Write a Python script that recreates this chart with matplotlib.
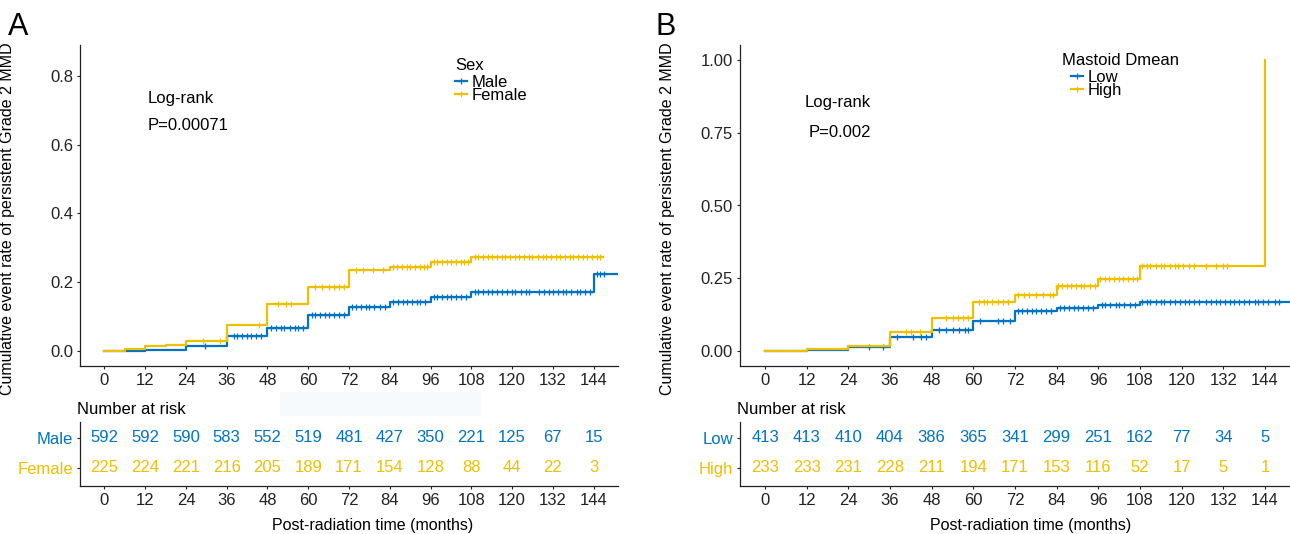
import numpy as np
import matplotlib.pyplot as plt
from matplotlib.lines import Line2D
from matplotlib.patches import Rectangle

plt.rcParams['font.family'] = ['Liberation Sans', 'DejaVu Sans']

BLUE = '#0073C2'
YELLOW = '#EFC000'

# shared x ticks (months)
months = [0, 12, 24, 36, 48, 60, 72, 84, 96, 108, 120, 132, 144]

# ---- Panel A: Sex ----
a_male_t = [0, 12, 18, 24, 36, 48, 60, 72, 84, 96, 108, 144, 151.2]
a_male_y = [0, 0.002, 0.004, 0.013, 0.043, 0.068, 0.105, 0.128, 0.142, 0.157, 0.170, 0.225, 0.225]
a_female_t = [0, 6, 12, 18, 24, 36, 48, 60, 72, 84, 96, 108, 146.8]
a_female_y = [0, 0.005, 0.013, 0.018, 0.030, 0.075, 0.135, 0.186, 0.234, 0.245, 0.258, 0.272, 0.272]

a_male_cens = [29.5, 38, 39, 40.5, 42, 43, 44.5, 46, 49, 50.5, 52, 53, 54.5, 56, 57, 58.5,
               61, 62, 63.5, 65, 66, 67.5, 69, 70.5, 73, 74, 75.5, 77, 78, 79.5, 81, 82.5,
               85, 86.5, 88, 89, 90.5, 92, 93, 94.5, 97, 98, 99.5, 101, 102, 103.5, 105, 106.5,
               109, 110, 111.5, 113, 114, 115.5, 117, 118.5, 120, 121, 122.5, 124, 125,
               128, 129.5, 131, 132, 133.5, 135, 136, 137.5, 139, 140, 141.5, 143, 145, 146, 147]
a_female_cens = [29, 34, 45.5, 51, 53.5, 55, 62, 64, 66, 67.5, 69, 70.5, 74, 76, 79, 82,
                 85, 86, 87.5, 89, 90, 91.5, 93, 94, 95, 97, 98, 99.5, 101, 102, 103.5, 105, 106, 107,
                 109, 110, 111.5, 113, 114, 115.5, 117, 118, 119.5, 121, 122, 123.5, 125, 126,
                 127.5, 129, 130, 131.5, 133, 134, 135.5, 137, 138, 139.5, 141, 142, 143.5, 145, 146]

a_male_risk = [592, 592, 590, 583, 552, 519, 481, 427, 350, 221, 125, 67, 15]
a_female_risk = [225, 224, 221, 216, 205, 189, 171, 154, 128, 88, 44, 22, 3]

# ---- Panel B: Mastoid Dmean ----
b_low_t = [0, 12, 24, 36, 48, 60, 72, 84, 96, 108, 151.2]
b_low_y = [0, 0.004, 0.015, 0.050, 0.072, 0.105, 0.138, 0.150, 0.160, 0.168, 0.168]
b_high_t = [0, 12, 24, 36, 48, 60, 72, 84, 96, 108, 144]
b_high_y = [0, 0.007, 0.017, 0.068, 0.113, 0.168, 0.193, 0.225, 0.248, 0.293, 1.0]

b_low_cens = [30, 34, 38, 42.5, 45, 46.5, 50, 52, 54, 56, 57.5, 58.5, 62, 67, 68.5, 70.5,
              73, 74, 75.5, 77, 78, 79.5, 81, 82.5, 85, 86, 87.5, 89, 90, 91.5, 93, 94.5,
              97, 98, 99.5, 101, 102, 103.5, 105, 106.5, 108.5, 110, 111, 112.5, 114, 115, 116.5,
              118, 119.5, 121, 122, 123.5, 125, 127, 128.5, 130, 131, 132.5, 134, 135, 136.5,
              138, 139.5, 141, 142, 143.5, 145, 147, 148]
b_high_cens = [40.5, 42, 44.5, 52, 54, 55.5, 57, 58.5, 61.5, 63, 64, 65.5, 67, 68.5, 70,
               73, 74.5, 76, 78, 80, 82, 83, 84.5, 85.5, 87, 88, 89.5, 91, 92, 93.5, 95,
               96.5, 98, 99, 100.5, 102, 103, 104.5, 106, 107, 108.5, 110, 111, 112.5, 114, 115,
               116.5, 118, 119, 120.5, 122, 123.5, 127, 130, 132, 133]

b_low_risk = [413, 413, 410, 404, 386, 365, 341, 299, 251, 162, 77, 34, 5]
b_high_risk = [233, 233, 231, 228, 211, 194, 171, 153, 116, 52, 17, 5, 1]

YLABEL = 'Cumulative event rate of persistent Grade 2 MMD'
XLABEL = 'Post-radiation time (months)'
FS = 12


def step_value(t, y, c):
    idx = np.searchsorted(t, c, side='right') - 1
    return np.asarray(y)[idx]


def style(ax):
    for s in ['top', 'right']:
        ax.spines[s].set_visible(False)
    for s in ['left', 'bottom']:
        ax.spines[s].set_linewidth(0.9)
        ax.spines[s].set_color('#222222')
    ax.tick_params(labelsize=FS, length=2.5, width=0.8, pad=2.5, colors='#222222')
    ax.set_xlim(-7.2, 151.2)
    ax.set_xticks(months)


fig = plt.figure(figsize=(12.9, 5.34), dpi=100)

panels = [
    dict(letter='A', lx=0.006, left=80 / 1290, width=538 / 1290,
         names=['Male', 'Female'], title='Sex',
         curves=[(a_male_t, a_male_y, a_male_cens, BLUE), (a_female_t, a_female_y, a_female_cens, YELLOW)],
         risk=[a_male_risk, a_female_risk],
         ylim=(-0.044, 0.89), yticks=[0.0, 0.2, 0.4, 0.6, 0.8], yfmt='{:.1f}',
         pval='P=0.00071', txt_x=12.6, txt_ha='left', txt_y=(0.733, 0.655),
         leg=(0.673, 0.986), title_shift=0, xlab_x=0.543),
    dict(letter='B', lx=0.508, left=740 / 1290, width=550 / 1290,
         names=['Low', 'High'], title='Mastoid Dmean',
         curves=[(b_low_t, b_low_y, b_low_cens, BLUE), (b_high_t, b_high_y, b_high_cens, YELLOW)],
         risk=[b_low_risk, b_high_risk],
         ylim=(-0.05, 1.05), yticks=[0.0, 0.25, 0.5, 0.75, 1.0], yfmt='{:.2f}',
         pval='P=0.002', txt_x=30.5, txt_ha='right', txt_y=(0.853, 0.75),
         leg=(0.578, 1.002), title_shift=-9, xlab_x=0.529),
]

for p in panels:
    ax = fig.add_axes([p['left'], 168 / 534, p['width'], 321 / 534])
    style(ax)
    for t, y, cens, col in p['curves']:
        ax.step(t, y, where='post', color=col, lw=1.6)
        ax.plot(cens, step_value(t, y, cens), '+', color=col, ms=4.5, mew=0.9)
    ax.set_ylim(*p['ylim'])
    ax.set_yticks(p['yticks'])
    ax.set_yticklabels([p['yfmt'].format(v) for v in p['yticks']])
    ax.set_ylabel(YLABEL, fontsize=11.5)
    ax.yaxis.set_label_coords(-0.121 if p['letter'] == 'A' else -0.118, 0.46)

    ax.text(p['txt_x'], p['txt_y'][0], 'Log-rank', fontsize=FS, ha=p['txt_ha'], va='center')
    ax.text(p['txt_x'], p['txt_y'][1], p['pval'], fontsize=FS, ha=p['txt_ha'], va='center')

    handles = [Line2D([], [], color=c[3], lw=1.6, marker='+', ms=4.5, mew=0.9) for c in p['curves']]
    leg = ax.legend(handles, p['names'], title=p['title'], loc='upper left',
                    bbox_to_anchor=p['leg'], frameon=False, fontsize=FS, title_fontsize=FS,
                    handlelength=0.7, handletextpad=0.3, labelspacing=-0.15, borderpad=0.3,
                    alignment='left')
    # lift the legend title a little above its entries
    leg.get_title().set_position((p['title_shift'], 5))

    fig.text(p['lx'], 0.935, p['letter'], fontsize=22)

    # risk table
    tab = fig.add_axes([p['left'], 48 / 534, p['width'], 64 / 534])
    style(tab)
    tab.set_ylim(0.4, 2.53)
    tab.set_yticks([2, 1])
    tab.set_yticklabels(p['names'])
    for lab, c in zip(tab.get_yticklabels(), p['curves']):
        lab.set_color(c[3])
    for row, vals, c in zip([2, 1], p['risk'], p['curves']):
        for m, v in zip(months, vals):
            tab.text(m, row, str(v), color=c[3], fontsize=FS, ha='center', va='center')
    tab.text(-0.006, 1.2, 'Number at risk', fontsize=FS, transform=tab.transAxes,
             ha='left', va='center')
    tab.set_xlabel(XLABEL, fontsize=11.5)
    tab.xaxis.set_label_coords(p['xlab_x'], -0.5)

# faint shaded strip visible above the left risk table
fig.add_artist(Rectangle((280 / 1290, 1 - 415 / 534), 200 / 1290, 23 / 534,
                         transform=fig.transFigure, color='#F6FAFD', zorder=0))

fig.savefig('out.png', dpi=100)
